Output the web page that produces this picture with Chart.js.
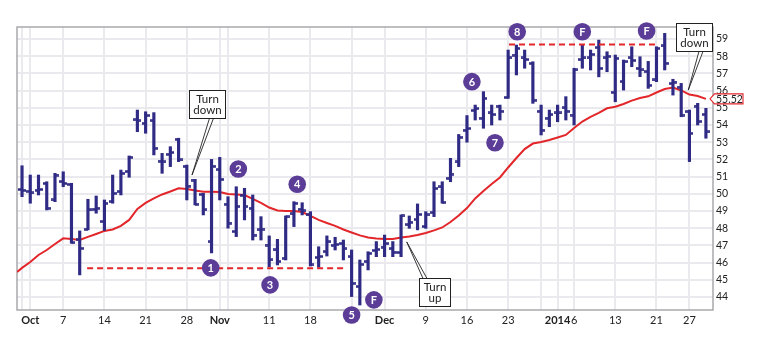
<!DOCTYPE html>
<html>
<head>
<meta charset="utf-8">
<script src="https://cdn.jsdelivr.net/npm/chart.js@4.4.1/dist/chart.umd.min.js"></script>
<style>
  html, body { margin: 0; padding: 0; background: #fff; }
  #wrap { width: 760px; height: 342px; position: relative; }
</style>
</head>
<body>
<div id="wrap"><canvas id="c" width="760" height="342"></canvas></div>
<script>
// Daily OHLC, trading-day index 0 = Mon 30 Sep 2013 ... 83 = Wed 29 Jan 2014
const open  = [50.25,50.15,50.20,50.60,49.64,50.70,50.55,47.35,47.94,49.10,
               48.38,49.54,50.12,51.29,54.30,54.10,54.25,51.90,52.30,53.17,
               51.60,50.80,49.96,47.20,51.40,49.40,47.80,49.90,49.16,47.90,
               47.02,46.73,46.25,48.83,49.10,48.77,46.30,46.63,47.00,47.10,
               46.34,44.60,46.05,46.70,46.90,46.80,46.58,48.20,48.50,48.10,
               48.90,50.40,50.90,51.85,53.70,54.85,54.40,54.70,55.10,55.60,
               58.07,57.90,57.59,54.80,54.40,54.70,55.00,54.58,57.80,57.90,
               58.50,57.90,55.90,56.52,57.90,57.30,57.10,56.62,58.60,56.40,
               56.20,54.77,55.10,54.60];
const high  = [51.63,51.09,51.09,50.70,51.19,51.28,50.61,47.84,49.68,49.87,
               49.64,51.09,51.38,52.20,54.87,54.77,54.72,52.35,52.74,53.23,
               51.67,50.84,50.03,52.00,52.12,49.83,50.41,50.32,49.93,48.67,
               47.55,47.35,48.71,49.54,49.48,48.96,46.92,47.55,47.47,47.31,
               46.73,46.15,46.63,47.22,47.60,47.22,48.77,48.71,49.41,48.96,
               50.70,50.70,52.06,53.45,54.55,55.16,55.94,55.16,55.16,58.36,
               58.65,58.36,57.68,55.16,54.87,55.16,55.65,57.30,58.65,58.36,
               58.94,58.26,58.07,57.78,58.55,57.97,57.70,58.55,59.33,56.66,
               56.42,54.87,55.26,54.97];
const low   = [49.83,49.45,49.93,49.06,49.54,50.41,47.12,45.28,47.90,48.87,
               47.86,49.45,49.93,50.96,53.61,53.52,52.26,51.19,51.58,51.87,
               49.64,49.35,48.77,46.56,49.64,48.00,47.51,48.48,47.31,47.31,
               45.76,45.86,46.15,48.09,48.77,45.80,45.73,46.38,46.73,46.15,
               44.02,43.53,45.57,46.34,46.34,46.34,46.34,47.99,47.90,47.99,
               48.67,49.45,50.70,51.58,53.00,54.29,53.81,54.00,54.29,55.55,
               56.91,57.30,55.26,53.42,53.90,54.19,54.29,54.00,57.30,57.20,
               56.80,57.10,55.35,56.03,57.39,56.81,56.13,56.52,57.20,55.74,
               54.48,51.87,54.00,53.23];
const close = [50.20,50.05,50.25,49.16,51.09,50.60,47.15,46.83,49.06,49.16,
               49.45,50.03,51.19,52.12,54.25,54.55,52.65,51.85,52.40,51.97,
               50.45,49.40,49.06,51.60,50.84,48.30,49.25,49.25,47.60,47.95,
               46.15,46.05,48.65,49.45,49.00,45.86,46.35,47.20,47.05,46.80,
               44.80,45.90,46.54,46.76,47.10,46.60,48.71,48.35,48.80,48.77,
               50.30,49.50,51.15,53.29,53.80,54.95,55.55,54.60,54.80,57.90,
               58.46,57.80,55.45,53.70,54.60,54.70,54.80,57.20,57.90,58.10,
               57.30,58.00,57.88,57.68,57.75,57.20,56.30,58.46,57.59,56.50,
               54.58,53.52,54.19,53.60];

// Moving average (first point sits on the left edge of the plot)
const maDays = [-0.6];
const ma = [45.45,
            45.69,46.03,46.44,46.73,47.08,47.41,47.37,47.31,47.49,47.66,
            47.84,47.92,48.13,48.48,49.12,49.47,49.73,49.96,50.13,50.32,
            50.28,50.19,50.12,50.12,50.10,49.99,49.96,49.93,49.70,49.47,
            49.20,49.03,49.00,49.00,48.94,48.71,48.48,48.30,48.13,47.92,
            47.75,47.58,47.46,47.40,47.37,47.37,47.46,47.52,47.60,47.72,
            47.87,48.04,48.36,48.74,49.17,49.73,50.16,50.57,50.95,51.53,
            52.08,52.60,52.92,53.01,53.13,53.27,53.42,53.83,54.20,54.47,
            54.70,54.97,55.06,55.22,55.42,55.57,55.67,55.89,56.09,56.18,
            56.01,55.77,55.69,55.52];
for (let i = 0; i < 84; i++) maDays.push(i);

// Date grid: week starts and month starts (trading-day index) with their labels
const gridDays   = [0, 1, 5, 10, 15, 20, 24, 25, 30, 35, 40, 44, 49, 54, 59, 63, 65, 67, 72, 77, 81];
const gridLabels = ['', 'Oct', '7', '14', '21', '28', 'Nov', '', '11', '18', '', 'Dec', '9', '16', '23', '', '2014', '6', '13', '21', '27'];
const boldLabels = ['Oct', 'Nov', 'Dec', '2014'];
const priceTicks = [44,45,46,47,48,49,50,51,52,53,54,55,56,57,58,59];

// Support / resistance levels (start day, end day, price)
const supportLine    = [[7.9, 45.67], [39.2, 45.67]];
const resistanceLine = [[59.1, 58.68], [77.2, 58.68]];

// Numbered pattern markers
const markerText = ['1', '2', '3', '4', '5', 'F', '6', '7', '8', 'F', 'F'];
const markerDay  = [22.9, 26.25, 30.1, 33.4, 40.0, 42.7, 54.6, 57.4, 60.1, 68.0, 75.8];
const markerY    = [45.69, 51.44, 44.70, 50.55, 42.95, 43.83, 56.52, 52.97, 59.42, 59.42, 59.47];

const BAR = '#2f2b85';
const RED = '#e2262a';
const PURPLE = '#5b3c97';
const FONT = 'Lato';

function tickImage(side) {
  const c = document.createElement('canvas');
  c.width = 8; c.height = 3;
  const g = c.getContext('2d');
  g.fillStyle = BAR;
  g.fillRect(side < 0 ? 0 : 4, 0.25, 4, 2.5);
  return c;
}

const callouts = [
  { lines: ['Turn', 'down'], tip: [20.63, 51.09], box: [22.4, 55.22], baseDx: 4.8 },
  { lines: ['Turn', 'up'],   tip: [46.69, 47.20], box: [50.0, 44.26], baseDx: -9 },
  { lines: ['Turn', 'down'], tip: [80.86, 56.03], box: [81.55, 59.09], baseDx: 7 }
];

const framePlugin = {
  id: 'frame',
  beforeDatasetsDraw(chart) {
    const { ctx, chartArea: a } = chart;
    ctx.save();
    ctx.strokeStyle = '#a9a9ad';
    ctx.lineWidth = 1.5;
    ctx.strokeRect(a.left, a.top, a.right - a.left, a.bottom - a.top);
    ctx.restore();
  }
};

const markerLabelPlugin = {
  id: 'markerLabels',
  afterDatasetsDraw(chart) {
    const meta = chart.getDatasetMeta(5);
    const ctx = chart.ctx;
    ctx.save();
    ctx.fillStyle = '#fff';
    ctx.font = 'bold 11px ' + FONT;
    ctx.textAlign = 'center';
    ctx.textBaseline = 'middle';
    meta.data.forEach((pt, i) => ctx.fillText(markerText[i], pt.x, pt.y + 0.5));
    ctx.restore();
  }
};

const calloutPlugin = {
  id: 'callouts',
  afterDraw(chart) {
    const { ctx, chartArea: a } = chart;
    const xs = chart.scales.x, ys = chart.scales.y;
    ctx.save();
    ctx.font = '11.5px ' + FONT;
    callouts.forEach(c => {
      const bx = xs.getPixelForValue(c.box[0]), by = ys.getPixelForValue(c.box[1]);
      const tx = xs.getPixelForValue(c.tip[0]), ty = ys.getPixelForValue(c.tip[1]);
      const w = Math.round(Math.max(...c.lines.map(l => ctx.measureText(l).width)) + 8);
      const h = c.lines.length * 11 + 6;
      const left = Math.round(bx - w / 2) + 0.5, top = Math.round(by - h / 2) + 0.5;
      const edgeY = ty > by ? top + h : top;
      const baseX = bx + c.baseDx;
      // pointer wedge
      ctx.beginPath();
      ctx.moveTo(baseX - 2, edgeY);
      ctx.lineTo(tx, ty);
      ctx.lineTo(baseX + 2, edgeY);
      ctx.closePath();
      ctx.fillStyle = '#fff';
      ctx.fill();
      ctx.beginPath();
      ctx.moveTo(baseX - 2, edgeY); ctx.lineTo(tx, ty);
      ctx.moveTo(baseX + 2, edgeY); ctx.lineTo(tx, ty);
      ctx.strokeStyle = '#222';
      ctx.lineWidth = 0.9;
      ctx.stroke();
      // box
      ctx.fillStyle = '#fff';
      ctx.fillRect(left, top, w, h);
      ctx.lineWidth = 1;
      ctx.strokeRect(left, top, w, h);
      ctx.fillStyle = '#222';
      ctx.textAlign = 'center';
      ctx.textBaseline = 'middle';
      c.lines.forEach((l, i) => ctx.fillText(l, left + w / 2, top + 8.5 + i * 11));
    });

    // last moving-average value tag on the price axis
    const last = ma[ma.length - 1];
    const yv = ys.getPixelForValue(last);
    const x0 = a.right;
    ctx.beginPath();
    ctx.moveTo(x0 - 3, yv);
    ctx.lineTo(x0 + 1.5, yv - 5);
    ctx.lineTo(x0 + 30, yv - 5);
    ctx.lineTo(x0 + 30, yv + 5);
    ctx.lineTo(x0 + 1.5, yv + 5);
    ctx.closePath();
    ctx.fillStyle = '#fff';
    ctx.fill();
    ctx.strokeStyle = RED;
    ctx.lineWidth = 1.1;
    ctx.stroke();
    ctx.fillStyle = '#222';
    ctx.font = '10.5px ' + FONT;
    ctx.textAlign = 'left';
    ctx.textBaseline = 'middle';
    ctx.fillText(last.toFixed(2), x0 + 3, yv + 0.5);
    ctx.restore();
  }
};

const toXY = (arr) => arr.map((v, i) => ({ x: i, y: v }));

new Chart(document.getElementById('c'), {
  type: 'line',
  data: {
    datasets: [
      { type: 'bar', data: high.map((h, i) => ({ x: i, y: [low[i], h] })),
        backgroundColor: BAR, barThickness: 2.5, borderWidth: 0, grouped: false, order: 5 },
      { type: 'scatter', data: toXY(open), pointStyle: tickImage(-1), pointRadius: 4, order: 4 },
      { type: 'scatter', data: toXY(close), pointStyle: tickImage(1), pointRadius: 4, order: 4 },
      { type: 'line', data: ma.map((v, i) => ({ x: maDays[i], y: v })), borderColor: RED,
        borderWidth: 2, pointRadius: 0, tension: 0, fill: false, order: 6 },
      { type: 'line', data: supportLine.map(p => ({ x: p[0], y: p[1] })), borderColor: RED,
        borderWidth: 2, borderDash: [6, 4], pointRadius: 0, order: 2 },
      { type: 'scatter', data: markerDay.map((d, i) => ({ x: d, y: markerY[i] })),
        backgroundColor: PURPLE, borderWidth: 0, pointRadius: 8.8, clip: false, order: 1 },
      { type: 'line', data: resistanceLine.map(p => ({ x: p[0], y: p[1] })), borderColor: RED,
        borderWidth: 2, borderDash: [6, 4], pointRadius: 0, order: 2 }
    ]
  },
  options: {
    responsive: false,
    animation: false,
    events: [],
    layout: { padding: { left: 17, top: 27, right: 0, bottom: 0 } },
    plugins: { legend: { display: false }, tooltip: { enabled: false } },
    scales: {
      x: {
        type: 'linear',
        offset: false,
        min: -0.61,
        max: 83.86,
        afterBuildTicks: s => { s.ticks = gridDays.map(v => ({ value: v })); },
        afterFit: s => { s.height = 32; s.paddingLeft = 0; s.paddingRight = 0; },
        ticks: {
          autoSkip: false,
          maxRotation: 0,
          padding: 4,
          color: '#222',
          font: ctx => ({ family: FONT, size: 11,
            weight: boldLabels.includes(gridLabels[ctx.index]) ? 'bold' : 'normal' }),
          callback: (v, i) => gridLabels[i]
        },
        grid: { color: '#e9e9ee', lineWidth: 2, drawTicks: false, offset: false },
        border: { display: false }
      },
      y: {
        position: 'right',
        min: 43.24,
        max: 59.70,
        afterBuildTicks: s => { s.ticks = priceTicks.map(v => ({ value: v })); },
        afterFit: s => { s.width = 47; s.paddingTop = 0; s.paddingBottom = 0; },
        ticks: {
          padding: 3,
          color: '#222',
          font: { family: FONT, size: 10.5 },
          callback: v => String(v)
        },
        grid: { color: '#e9e9ee', lineWidth: 2, drawTicks: false },
        border: { display: false }
      }
    }
  },
  plugins: [framePlugin, markerLabelPlugin, calloutPlugin]
});
</script>
</body>
</html>
